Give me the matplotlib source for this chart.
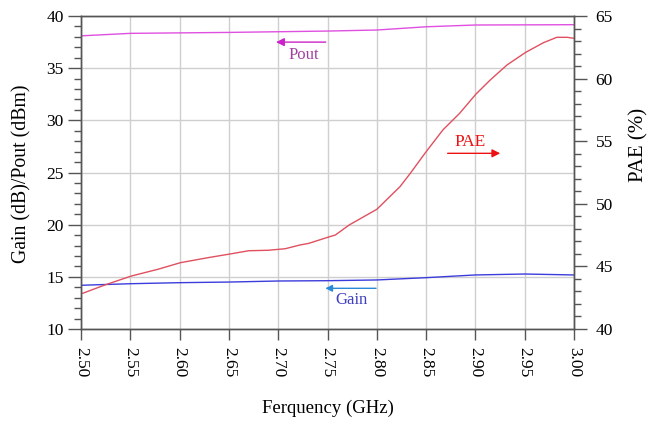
import matplotlib
matplotlib.use("Agg")
import matplotlib.pyplot as plt
from matplotlib.ticker import MultipleLocator, FormatStrFormatter

plt.rcParams['font.family'] = ['Liberation Serif', 'DejaVu Serif']

# Data
freq_pae = [2.500, 2.524, 2.551, 2.578, 2.601, 2.629, 2.651, 2.670, 2.690, 2.707,
            2.722, 2.731, 2.750, 2.758, 2.772, 2.800, 2.8235, 2.834, 2.850, 2.867,
            2.884, 2.9006, 2.915, 2.932, 2.951, 2.969, 2.9825, 2.993, 3.000]
pae = [42.80, 43.51, 44.23, 44.77, 45.30, 45.70, 45.99, 46.25, 46.29, 46.41,
       46.71, 46.84, 47.32, 47.51, 48.31, 49.56, 51.37, 52.44, 54.16, 55.90,
       57.23, 58.77, 59.89, 61.09, 62.10, 62.87, 63.30, 63.30, 63.22]

freq_pout = [2.50, 2.55, 2.65, 2.75, 2.80, 2.85, 2.90, 3.00]
pout = [38.1, 38.34, 38.43, 38.56, 38.66, 38.97, 39.14, 39.17]

freq_gain = [2.50, 2.55, 2.60, 2.65, 2.70, 2.75, 2.80, 2.85, 2.90, 2.95, 3.00]
gain = [14.19, 14.34, 14.44, 14.5, 14.6, 14.63, 14.7, 14.92, 15.18, 15.27, 15.18]

x_ticks = [2.50, 2.55, 2.60, 2.65, 2.70, 2.75, 2.80, 2.85, 2.90, 2.95, 3.00]

fig = plt.figure(figsize=(6.57, 4.22), dpi=100)
ax = fig.add_axes([0.1233, 0.2204, 0.7504, 0.7416])
ax2 = ax.twinx()

spine_c = '#555555'
ax.plot(freq_pout, pout, color='#e050e0', lw=1.0)
ax.plot(freq_gain, gain, color='#3c3cdc', lw=1.0)
ax2.plot(freq_pae, pae, color='#e05060', lw=1.0)

ax.set_xlim(2.50, 3.00)
ax.set_ylim(10, 40)
ax2.set_ylim(40, 65)

ax.set_xticks(x_ticks)
ax.xaxis.set_major_formatter(FormatStrFormatter('%.2f'))
ax.yaxis.set_major_locator(MultipleLocator(5))
ax.yaxis.set_minor_locator(MultipleLocator(1))
ax2.yaxis.set_major_locator(MultipleLocator(5))
ax2.yaxis.set_minor_locator(MultipleLocator(1))

ax.grid(True, which='major', color='#cfcfcf', lw=1.0)
ax.set_axisbelow(True)

fs = 12.5
ax.tick_params(axis='x', which='major', direction='out', length=8, width=1,
               color=spine_c, labelsize=fs, labelrotation=-90, pad=5)
ax.tick_params(axis='y', which='major', direction='out', length=9.5, width=1,
               color=spine_c, labelsize=fs, pad=3)
ax.tick_params(axis='y', which='minor', direction='out', length=5, width=1, color=spine_c)
ax2.tick_params(axis='y', which='major', direction='out', length=9.5, width=1,
                color=spine_c, labelsize=fs, pad=6)
ax2.tick_params(axis='y', which='minor', direction='out', length=5, width=1, color=spine_c)

for a in (ax, ax2):
    for s in a.spines.values():
        s.set_color(spine_c)
        s.set_linewidth(1.0)

ax.set_xlabel('Ferquency (GHz)', fontsize=13.5)
ax.set_ylabel('Gain (dB)/Pout (dBm)', fontsize=14.2)
ax2.set_ylabel('PAE (%)', fontsize=15)
ax.xaxis.set_label_coords(0.5, -0.227)
ax.yaxis.set_label_coords(-0.101, 0.495)
ax2.yaxis.set_label_coords(1.111, 0.588)

# Annotations
ax.annotate('', xy=(2.695, 37.5), xytext=(2.751, 37.5),
            arrowprops=dict(arrowstyle='-|>', color='#cc22cc', lw=1.0, mutation_scale=12))
ax.text(2.7255, 36.26, 'Pout', color='#a040a0', fontsize=12, ha='center', va='center')

ax.annotate('', xy=(2.928, 26.84), xytext=(2.869, 26.84),
            arrowprops=dict(arrowstyle='-|>', color='#ee1111', lw=1.0, mutation_scale=12))
ax.text(2.8945, 27.95, 'PAE', color='#ee1111', fontsize=12.5, ha='center', va='center')

ax.annotate('', xy=(2.745, 13.9), xytext=(2.802, 13.9),
            arrowprops=dict(arrowstyle='-|>', color='#2a8ad8', lw=1.0, mutation_scale=10))
ax.text(2.774, 12.75, 'Gain', color='#4040c0', fontsize=12, ha='center', va='center')

fig.savefig('out.png', dpi=100)
